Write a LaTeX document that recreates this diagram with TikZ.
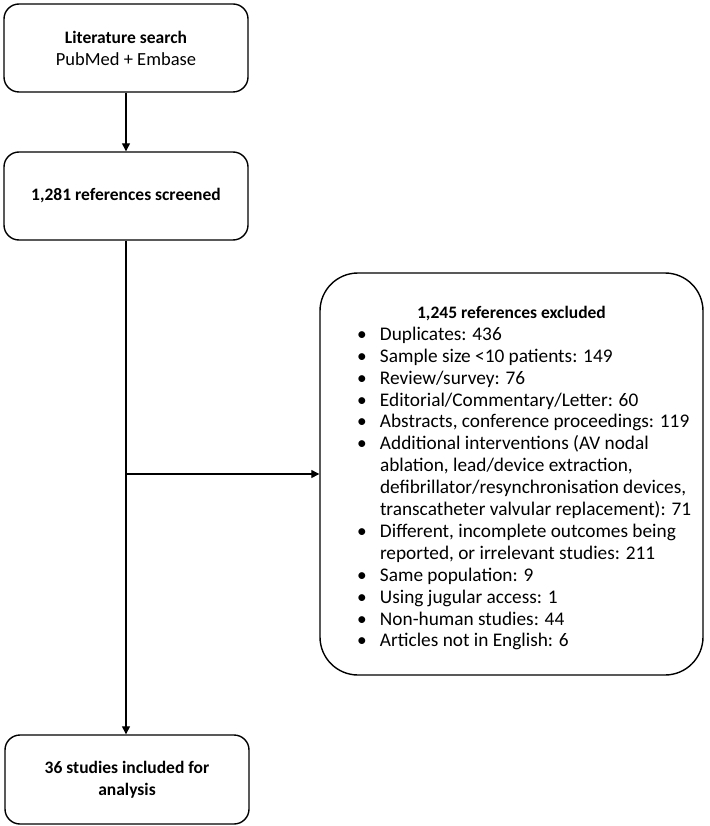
\documentclass[tikz,border=0pt]{standalone}
\usepackage{fontspec}
\setmainfont{Carlito}
\usetikzlibrary{arrows.meta}

\newcommand{\boldline}[1]{{\fontsize{17.5}{22}\selectfont\bfseries #1}}

\tikzset{
  stagebox/.style={draw, line width=1.4pt, rounded corners=15pt,
    minimum width=244pt, minimum height=88pt, align=center,
    font=\fontsize{18.5}{22}\selectfont},
  exclbox/.style={draw, line width=1.4pt, rounded corners=38pt,
    minimum width=383pt, minimum height=402pt, inner sep=0pt,
    font=\fontsize{19.3}{21.9}\selectfont},
  flow/.style={-{Triangle[length=8pt,width=8pt]}, line width=1.3pt}
}

\begin{document}
\begin{tikzpicture}[x=1pt,y=-1pt]
  \useasboundingbox (0,0) rectangle (709,826);
  % Ricerca e screening
  \node[stagebox] (search) at (126,48) {\boldline{Literature search}\\PubMed + Embase};
  \node[stagebox] (screened) at (126,196) {\boldline{1,281 references screened}};
  % Studi esclusi
  \node[exclbox] (excluded) at (511.5,474) {%
    \begin{tabular}{@{\hspace{34pt}}p{23pt}@{}p{320pt}@{}}
      \multicolumn{2}{@{}c@{}}{\rule{0pt}{24pt}\boldline{1,245 references excluded}}\\
      \textbullet & Duplicates: 436\\
      \textbullet & Sample size <10 patients: 149\\
      \textbullet & Review/survey: 76\\
      \textbullet & Editorial/Commentary/Letter: 60\\
      \textbullet & Abstracts, conference proceedings: 119\\
      \textbullet & Additional interventions (AV nodal\\
                  & ablation, lead/device extraction,\\
                  & defibrillator/resynchronisation devices,\\
                  & transcatheter valvular replacement): 71\\
      \textbullet & Different, incomplete outcomes being\\
                  & reported, or irrelevant studies: 211\\
      \textbullet & Same population: 9\\
      \textbullet & Using jugular access: 1\\
      \textbullet & Non-human studies: 44\\
      \textbullet & Articles not in English: 6
    \end{tabular}};
  % Studi inclusi
  \node[stagebox, minimum height=89pt] (included) at (127,779.5) {\boldline{36 studies included for}\\\boldline{analysis}};
  \coordinate (branch) at (screened.south |- excluded.west);
  % Frecce
  \draw[flow] (search) -- (screened);
  \draw[flow] (screened.south) -- (screened.south |- included.north);
  \draw[flow] (branch) -- (excluded.west);
\end{tikzpicture}
\end{document}
